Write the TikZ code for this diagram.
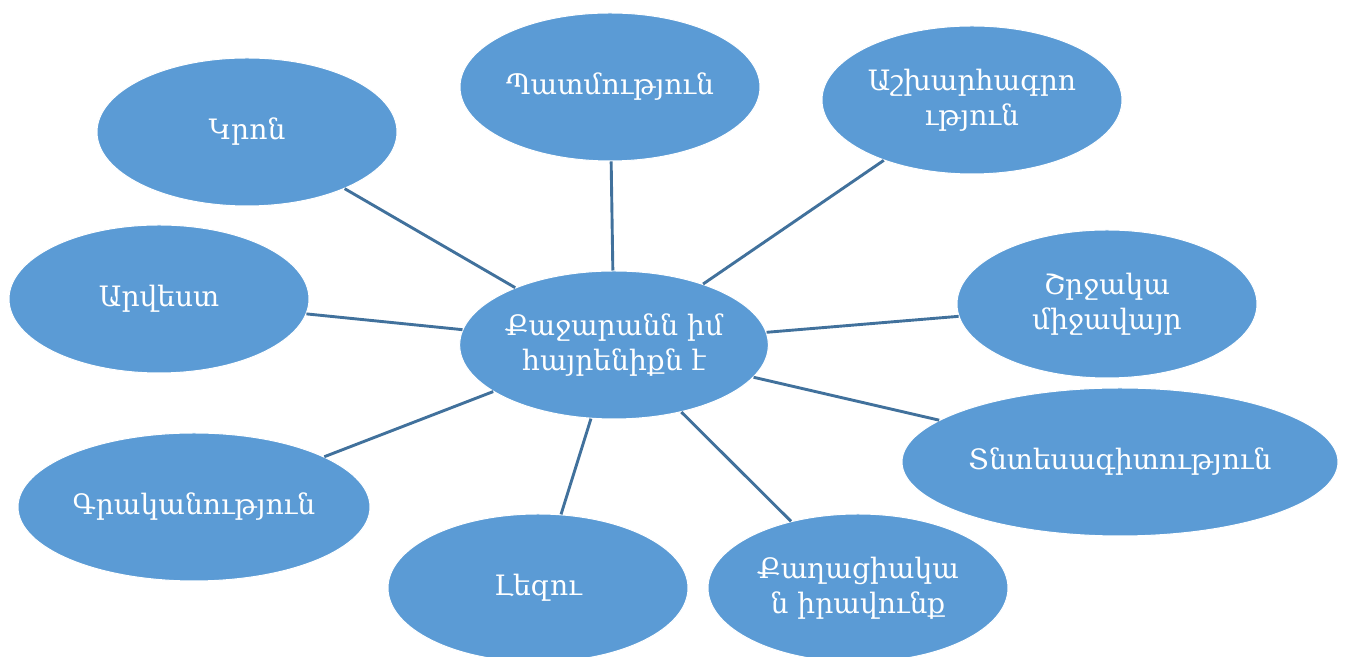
\documentclass[tikz,border=0pt]{standalone}
\usepackage{fontspec}
\setmainfont{DejaVu Serif}
\usetikzlibrary{shapes.geometric}
\definecolor{topicfill}{HTML}{5B9BD5}
\definecolor{topicline}{HTML}{41719C}
\tikzset{
  topic/.style={ellipse, fill=topicfill, draw=white, line width=0.02cm,
    text=white, align=center, inner sep=0pt,
    minimum width=6.000000cm, minimum height=2.960000cm},
  link/.style={draw=topicline, line width=0.058cm}
}
\begin{document}
\begin{tikzpicture}
                        \useasboundingbox (0,0) rectangle (26.920000,13.140000);
                        {\fontsize{16}{20}\selectfont

                        % Marking centre topic
                        \node [topic, minimum width=6.120000cm] (home) at (12.280000,6.240000) {Քաջարանն իմ\\հայրենիքն է};%

                        % Marking topics round it
                        \node [topic] (history) at (12.200000,11.400000) {Պատմություն};%
                        \node [topic] (geography) at (19.440000,11.140000) {Աշխարհագրո\\ւթյուն};%
                        \node [topic] (religion) at (4.940000,10.500000) {Կրոն};%
                        \node [topic] (art) at (3.180000,7.160000) {Արվեստ};%
                        \node [topic] (environment) at (22.140000,7.060000) {Շրջակա\\միջավայր};%
                        \node [topic, minimum width=8.720000cm] (economics) at (22.400000,3.900000) {Տնտեսագիտություն};%
                        \node [topic] (civilrights) at (17.160000,1.380000) {Քաղացիակա\\ն իրավունք};%
                        \node [topic] (language) at (10.760000,1.380000) {Լեզու};%
                        \node [topic, minimum width=7.040000cm] (literature) at (3.880000,3.000000) {Գրականություն};%

                        % Drawing lines from centre to topics
                        \draw [link] (home) -- (history);%
                        \draw [link] (home) -- (geography);%
                        \draw [link] (home) -- (religion);%
                        \draw [link] (home) -- (art);%
                        \draw [link] (home) -- (environment);%
                        \draw [link] (home) -- (economics);%
                        \draw [link] (home) -- (civilrights);%
                        \draw [link] (home) -- (language);%
                        \draw [link] (home) -- (literature);%
                        }
                    \end{tikzpicture}
\end{document}
